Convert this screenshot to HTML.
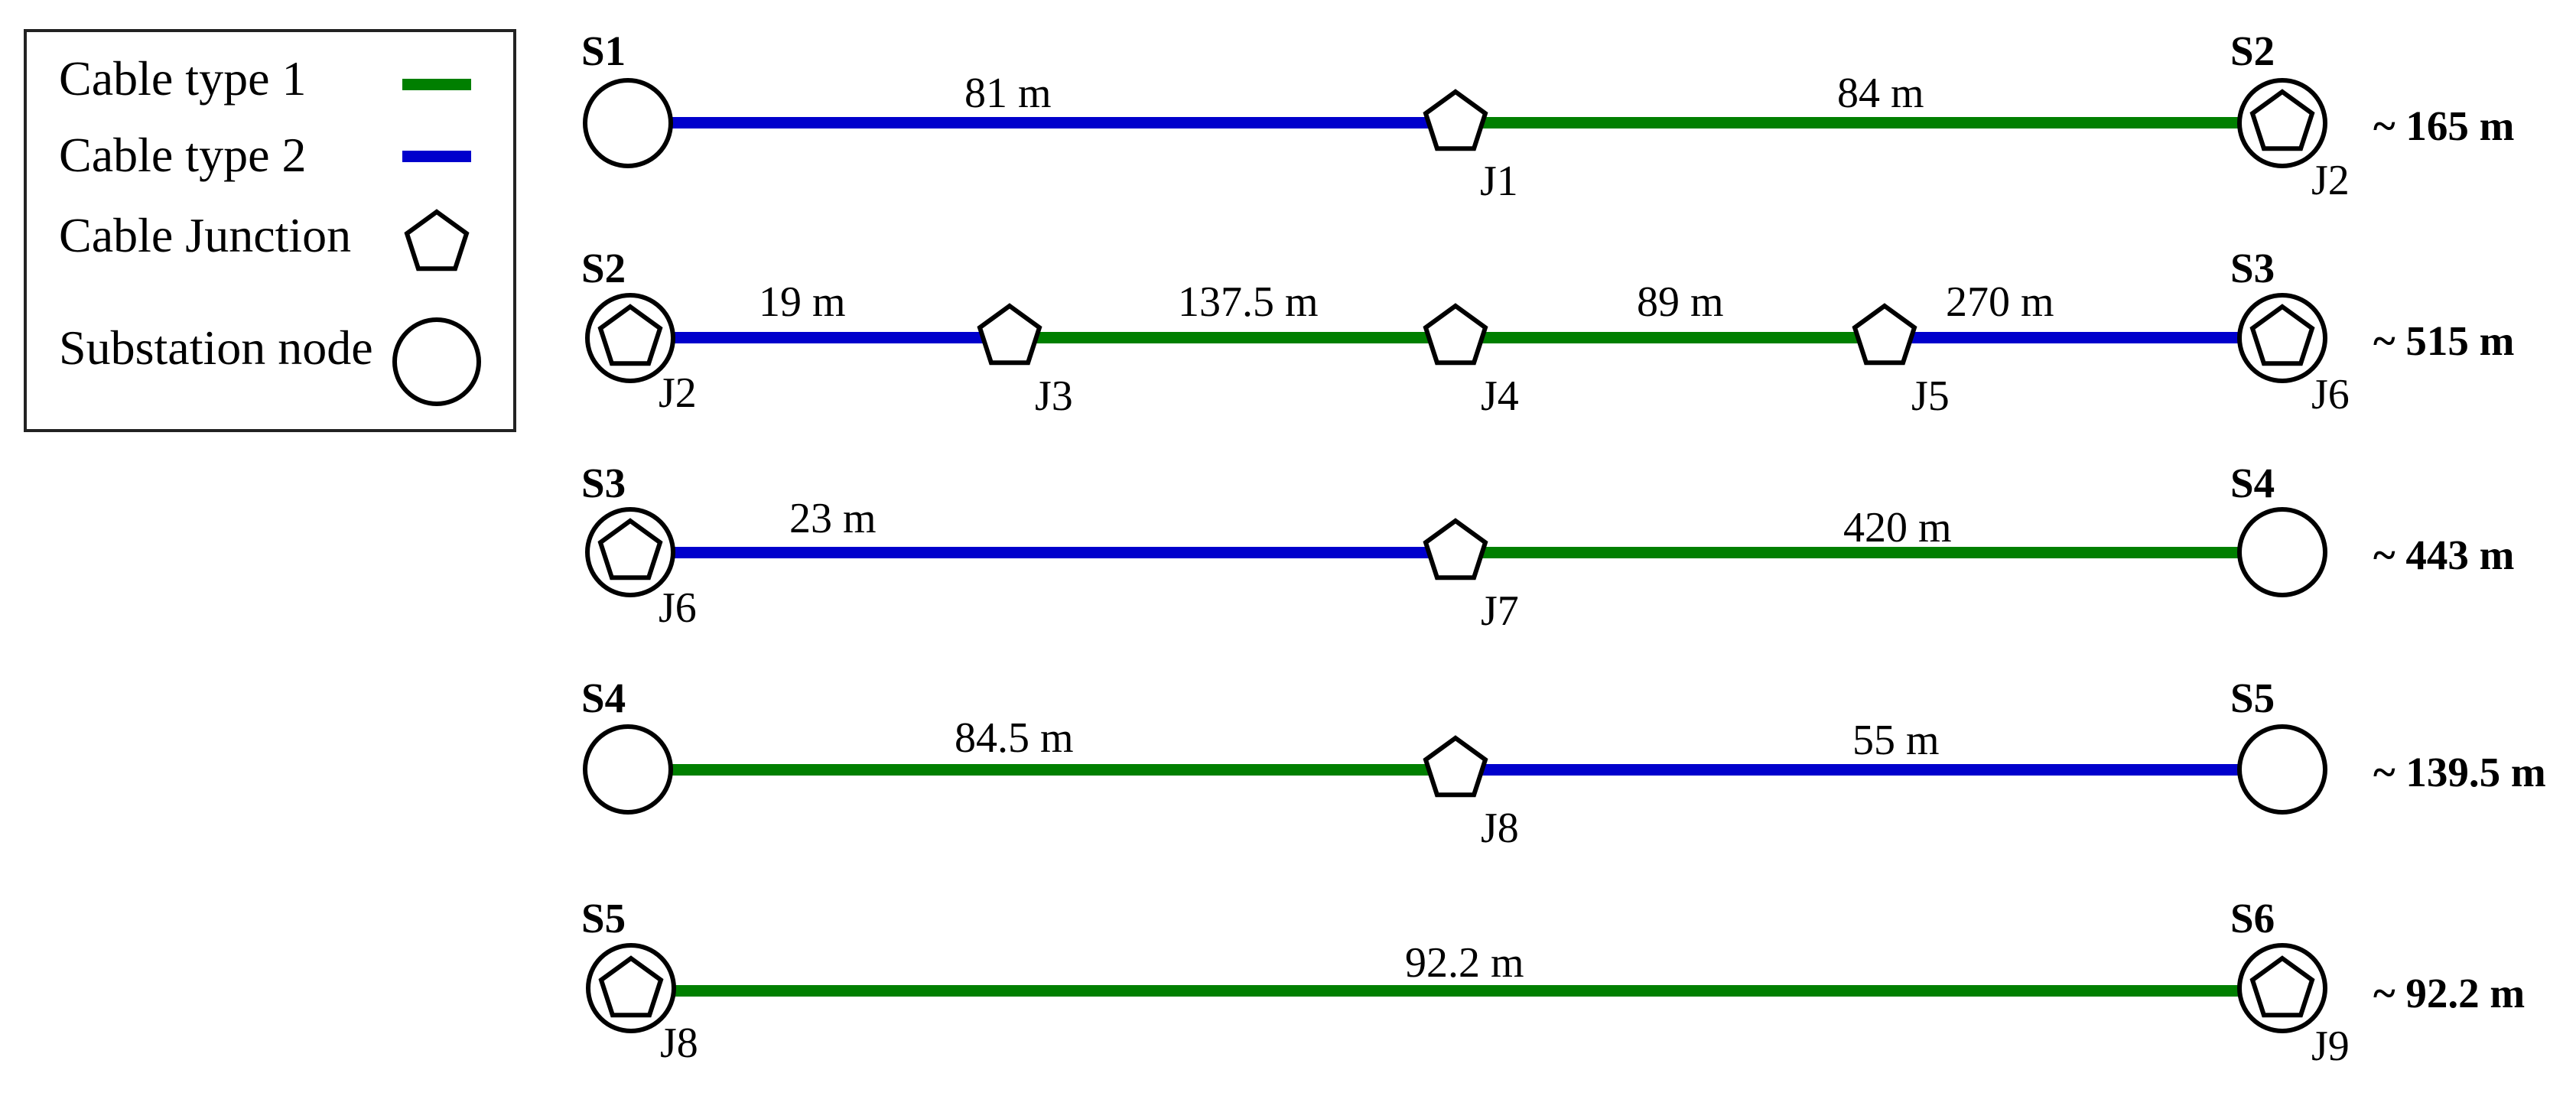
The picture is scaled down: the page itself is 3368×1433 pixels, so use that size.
<!DOCTYPE html>
<html><head><meta charset="utf-8"><style>
html,body{margin:0;padding:0;background:#fff;}
svg{display:block;}
text{font-family:"Liberation Serif",serif;fill:#000;}
.l{font-size:56px;}
.g{font-size:64px;}
.b{font-size:55px;font-weight:bold;}
</style></head><body>
<svg width="3368" height="1433" viewBox="0 0 3368 1433" xmlns="http://www.w3.org/2000/svg">
<defs>
<polygon id="pg" points="0,-41 39,-12.7 24.1,33.2 -24.1,33.2 -39,-12.7" fill="#fff" stroke="#000" stroke-width="6" stroke-linejoin="miter"/>
</defs>
<!-- Legend -->
<rect x="33" y="40" width="640" height="523" fill="#fff" stroke="#222" stroke-width="4"/>
<text class="g" x="77" y="124">Cable type 1</text>
<rect x="526" y="103" width="90" height="15" fill="#007f00"/>
<text class="g" x="77" y="224">Cable type 2</text>
<rect x="526" y="197" width="90" height="15" fill="#0000cc"/>
<text class="g" x="77" y="329">Cable Junction</text>
<use href="#pg" x="571" y="318"/>
<text class="g" x="77" y="476">Substation node</text>
<circle cx="571" cy="473" r="55" fill="none" stroke="#000" stroke-width="6"/>

<!-- Row 1 -->
<rect x="878" y="153" width="1025" height="15" fill="#0000cc"/>
<rect x="1903" y="153" width="1024" height="15" fill="#007f00"/>
<circle cx="821" cy="161" r="56" fill="#fff" stroke="#000" stroke-width="6"/>
<circle cx="2984" cy="161" r="56" fill="#fff" stroke="#000" stroke-width="6"/>
<use href="#pg" x="2984" y="161"/>
<use href="#pg" x="1903" y="161"/>
<text class="b" x="760" y="85">S1</text>
<text class="b" x="2916" y="85">S2</text>
<text class="l" x="1261" y="140">81 m</text>
<text class="l" x="2402" y="140">84 m</text>
<text class="l" x="1935" y="255">J1</text>
<text class="l" x="3022" y="254">J2</text>
<text class="b" x="3103" y="183">~ 165 m</text>

<!-- Row 2 -->
<rect x="880" y="434" width="440" height="15" fill="#0000cc"/>
<rect x="1320" y="434" width="1144" height="15" fill="#007f00"/>
<rect x="2464" y="434" width="464" height="15" fill="#0000cc"/>
<circle cx="824" cy="442" r="56" fill="#fff" stroke="#000" stroke-width="6"/>
<use href="#pg" x="824" y="442"/>
<circle cx="2984" cy="442" r="56" fill="#fff" stroke="#000" stroke-width="6"/>
<use href="#pg" x="2984" y="442"/>
<use href="#pg" x="1320" y="441"/>
<use href="#pg" x="1903" y="441"/>
<use href="#pg" x="2464" y="441"/>
<text class="b" x="760" y="369">S2</text>
<text class="b" x="2916" y="369">S3</text>
<text class="l" x="992" y="413">19 m</text>
<text class="l" x="1540" y="413">137.5 m</text>
<text class="l" x="2140" y="413">89 m</text>
<text class="l" x="2544" y="413">270 m</text>
<text class="l" x="861" y="532">J2</text>
<text class="l" x="1353" y="536">J3</text>
<text class="l" x="1936" y="536">J4</text>
<text class="l" x="2499" y="536">J5</text>
<text class="l" x="3022" y="534">J6</text>
<text class="b" x="3103" y="464">~ 515 m</text>

<!-- Row 3 -->
<rect x="880" y="715" width="1023" height="15" fill="#0000cc"/>
<rect x="1903" y="715" width="1024" height="15" fill="#007f00"/>
<circle cx="824" cy="722" r="56" fill="#fff" stroke="#000" stroke-width="6"/>
<use href="#pg" x="824" y="722"/>
<circle cx="2984" cy="722" r="56" fill="#fff" stroke="#000" stroke-width="6"/>
<use href="#pg" x="1903" y="722"/>
<text class="b" x="760" y="650">S3</text>
<text class="b" x="2916" y="650">S4</text>
<text class="l" x="1032" y="696">23 m</text>
<text class="l" x="2410" y="708">420 m</text>
<text class="l" x="861" y="813">J6</text>
<text class="l" x="1936" y="817">J7</text>
<text class="b" x="3103" y="744">~ 443 m</text>

<!-- Row 4 -->
<rect x="878" y="999" width="1025" height="15" fill="#007f00"/>
<rect x="1903" y="999" width="1024" height="15" fill="#0000cc"/>
<circle cx="821" cy="1006" r="56" fill="#fff" stroke="#000" stroke-width="6"/>
<circle cx="2984" cy="1006" r="56" fill="#fff" stroke="#000" stroke-width="6"/>
<use href="#pg" x="1903" y="1006"/>
<text class="b" x="760" y="931">S4</text>
<text class="b" x="2916" y="931">S5</text>
<text class="l" x="1248" y="983">84.5 m</text>
<text class="l" x="2422" y="986">55 m</text>
<text class="l" x="1936" y="1101">J8</text>
<text class="b" x="3103" y="1028">~ 139.5 m</text>

<!-- Row 5 -->
<rect x="880" y="1288" width="2048" height="15" fill="#007f00"/>
<circle cx="825" cy="1292" r="56" fill="#fff" stroke="#000" stroke-width="6"/>
<use href="#pg" x="825" y="1294"/>
<circle cx="2984" cy="1292" r="56" fill="#fff" stroke="#000" stroke-width="6"/>
<use href="#pg" x="2984" y="1294"/>
<text class="b" x="760" y="1219">S5</text>
<text class="b" x="2916" y="1219">S6</text>
<text class="l" x="1837" y="1277">92.2 m</text>
<text class="l" x="863" y="1382">J8</text>
<text class="l" x="3022" y="1386">J9</text>
<text class="b" x="3103" y="1317">~ 92.2 m</text>
</svg>
</body></html>
